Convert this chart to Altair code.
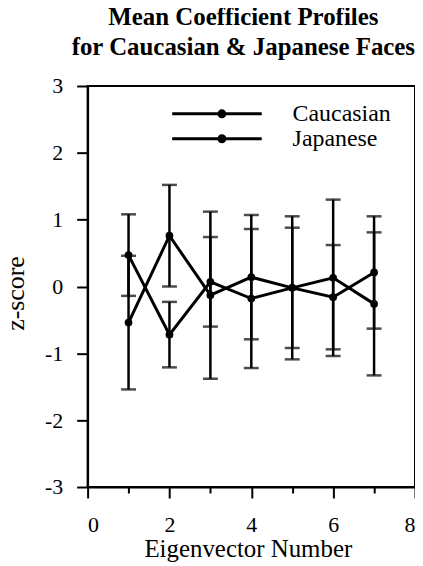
import altair as alt
import pandas as pd

# ---- data ----
eigenvectors = [1, 2, 3, 4, 5, 6, 7]
series_names = ["Caucasian", "Japanese"]
caucasian_mean = [0.47, -0.72, 0.07, -0.18, -0.02, 0.13, -0.26]
caucasian_err = [0.61, 0.49, 0.67, 1.04, 1.07, 1.17, 1.07]
japanese_mean = [-0.54, 0.76, -0.13, 0.14, -0.02, -0.16, 0.21]
japanese_err = [1.00, 0.76, 1.25, 0.93, 0.90, 0.78, 0.84]

x_ticks = [0, 1, 2, 3, 4, 5, 6, 7, 8]
y_ticks = [-3, -2.5, -2, -1.5, -1, -0.5, 0, 0.5, 1, 1.5, 2, 2.5, 3]

rows = []
for name, means, errs in [("Caucasian", caucasian_mean, caucasian_err),
                          ("Japanese", japanese_mean, japanese_err)]:
    for x, m, e in zip(eigenvectors, means, errs):
        rows.append({"series": name, "x": x, "mean": m, "lo": m - e, "hi": m + e})
df = pd.DataFrame(rows)

FONT = "Liberation Serif"

xscale = alt.Scale(domain=[0, 8], nice=False, zero=False)
yscale = alt.Scale(domain=[-3, 3], nice=False, zero=False)

xaxis = alt.Axis(
    values=x_ticks,
    title="Eigenvector Number",
    labelExpr="datum.value % 2 === 0 ? '' + datum.value : ''",
    tickSize={"condition": {"test": "datum.value % 2 !== 0", "value": 6}, "value": 11},
    labelPadding=17,
    titleFontSize=25,
    titleX=161, titleY=70, titleAlign="center", titleBaseline="alphabetic",
)
yaxis = alt.Axis(
    values=y_ticks,
    title="z-score",
    labelExpr="datum.value % 1 === 0 ? '' + datum.value : ''",
    tickSize={"condition": {"test": "datum.value % 1 !== 0", "value": 5}, "value": 11},
    labelPadding=14,
    titleFontSize=26,
    titleX=-72, titleY=208, titleAngle=-90, titleAlign="center", titleBaseline="middle",
)

base = alt.Chart(df)

legend_path = ("M-4,0H4"
               "M0.573,0A0.133,0.133,0,1,1,0.307,0A0.133,0.133,0,1,1,0.573,0"
               "M0.707,0A0.267,0.267,0,1,1,0.173,0A0.267,0.267,0,1,1,0.707,0")

lines = base.mark_line(strokeWidth=3).encode(
    x=alt.X("x:Q", scale=xscale, axis=xaxis),
    y=alt.Y("mean:Q", scale=yscale, axis=yaxis),
    color=alt.Color(
        "series:N",
        scale=alt.Scale(domain=series_names, range=["black", "black"]),
        legend=alt.Legend(
            title=None, orient="none", legendX=117, legendY=15, padding=0,
            symbolType=legend_path, symbolSize=506, symbolStrokeWidth=3,
            symbolStrokeColor="black", symbolFillColor="black",
            labelFont=FONT, labelFontSize=24, labelColor="black",
            labelOffset=63, rowPadding=-1,
        ),
    ),
)

rules = base.mark_rule(strokeWidth=2.5, color="black").encode(
    x="x:Q", y="lo:Q", y2="hi:Q", detail="series:N"
)
caps_lo = base.mark_tick(orient="horizontal", size=15, thickness=2.5, color="black").encode(
    x="x:Q", y="lo:Q", detail="series:N"
)
caps_hi = base.mark_tick(orient="horizontal", size=15, thickness=2.5, color="black").encode(
    x="x:Q", y="hi:Q", detail="series:N"
)
points = base.mark_circle(size=60, color="black", opacity=1).encode(
    x="x:Q", y="mean:Q", detail="series:N"
)

chart = alt.layer(rules, caps_lo, caps_hi, lines, points).properties(
    width=329,
    height=403,
    autosize=alt.AutoSizeParams(type="none"),
    padding={"left": 80, "top": 77, "right": 0, "bottom": 78},
    background="white",
    title=alt.TitleParams(
        text=["Mean Coefficient Profiles", "for Caucasian & Japanese Faces"],
        font=FONT, fontSize=25, fontWeight="bold", color="black",
        anchor="middle", dx=-8, offset=15, lineHeight=30,
    ),
).configure_axis(
    labelFont=FONT, labelFontSize=22, labelColor="black",
    titleFont=FONT, titleColor="black", titleFontWeight="normal",
    domainColor="black", domainWidth=2, tickColor="black", tickWidth=2,
    grid=False,
).configure_view(
    stroke="black", strokeWidth=2,
)

chart.save("out.html", embed_options={"renderer": "svg", "actions": False})
